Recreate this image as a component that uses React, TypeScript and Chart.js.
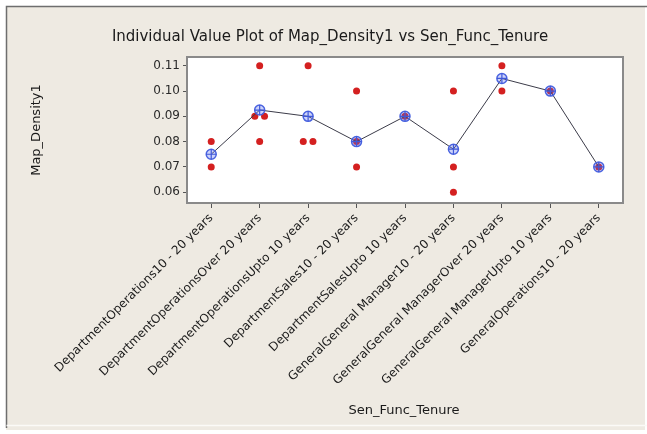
import React, { useEffect, useRef } from "react";
import { Chart, registerables } from "chart.js";

Chart.register(...registerables);

const categories = [
  "DepartmentOperations10 - 20 years",
  "DepartmentOperationsOver 20 years",
  "DepartmentOperationsUpto 10 years",
  "DepartmentSales10 - 20 years",
  "DepartmentSalesUpto 10 years",
  "GeneralGeneral Manager10 - 20 years",
  "GeneralGeneral ManagerOver 20 years",
  "GeneralGeneral ManagerUpto 10 years",
  "GeneralOperations10 - 20 years",
];

// individual observations: category index and value
const obsCategory = [0, 0, 1, 1, 1, 1, 2, 2, 2, 3, 3, 3, 4, 5, 5, 5, 6, 6, 7, 8];
const obsValue = [
  0.08, 0.07, 0.11, 0.09, 0.09, 0.08, 0.11, 0.08, 0.08, 0.1, 0.08, 0.07, 0.09,
  0.1, 0.07, 0.06, 0.11, 0.1, 0.1, 0.07,
];

// category means
const meanValues = [0.075, 0.0925, 0.09, 0.08, 0.09, 0.077, 0.105, 0.1, 0.07];

const yTicks = [0.06, 0.07, 0.08, 0.09, 0.1, 0.11];

const FONT = "'DejaVu Sans', sans-serif";

export default function App() {
  const ref = useRef<HTMLCanvasElement | null>(null);

  useEffect(() => {
    document.body.style.margin = "0";
    const canvas = ref.current;
    if (!canvas) return;

    // spread duplicate observations side by side within a category
    const seen: Record<string, number> = {};
    const counts: Record<string, number> = {};
    obsCategory.forEach((c, i) => {
      const k = c + "|" + obsValue[i];
      counts[k] = (counts[k] || 0) + 1;
    });
    const obsPoints = obsCategory.map((c, i) => {
      const k = c + "|" + obsValue[i];
      const n = counts[k];
      const j = seen[k] || 0;
      seen[k] = j + 1;
      const off = n > 1 ? (j - (n - 1) / 2) * 0.2 : 0;
      return { x: c + off, y: obsValue[i] };
    });
    const meanPoints = meanValues.map((v, i) => ({ x: i, y: v }));

    const decor = {
      id: "decor",
      beforeDraw(chart: any) {
        const ctx = chart.ctx;
        const { width, height } = chart;
        ctx.save();
        ctx.fillStyle = "#ffffff";
        ctx.fillRect(0, 0, width, height);
        ctx.fillStyle = "#eeeae2";
        ctx.fillRect(6, 6, width - 8, height - 10);
        ctx.strokeStyle = "#6e6e6e";
        ctx.lineWidth = 1.5;
        ctx.beginPath();
        ctx.moveTo(6.5, height - 6);
        ctx.lineTo(6.5, 6.5);
        ctx.lineTo(width, 6.5);
        ctx.stroke();
        ctx.strokeStyle = "#fbfaf7";
        ctx.beginPath();
        ctx.moveTo(6.5, height - 8.5);
        ctx.lineTo(width, height - 8.5);
        ctx.stroke();
        const a = chart.chartArea;
        ctx.fillStyle = "#ffffff";
        ctx.fillRect(a.left, a.top, a.right - a.left, a.bottom - a.top);
        ctx.restore();
      },
      afterDraw(chart: any) {
        const ctx = chart.ctx;
        const a = chart.chartArea;
        ctx.save();
        ctx.strokeStyle = "#8a8a8a";
        ctx.lineWidth = 2;
        ctx.strokeRect(a.left, a.top, a.right - a.left, a.bottom - a.top);
        ctx.fillStyle = "#1a1a1a";
        ctx.textAlign = "center";
        ctx.textBaseline = "middle";
        ctx.font = "15px " + FONT;
        ctx.fillText("Individual Value Plot of Map_Density1 vs Sen_Func_Tenure", 330, 37);
        ctx.font = "13px " + FONT;
        ctx.fillText("Sen_Func_Tenure", 404, 411);
        ctx.translate(37, (a.top + a.bottom) / 2);
        ctx.rotate(-Math.PI / 2);
        ctx.fillText("Map_Density1", 0, 0);
        ctx.restore();
      },
    };

    const chart = new Chart(canvas, {
      type: "scatter",
      data: {
        datasets: [
          {
            type: "line",
            data: meanPoints,
            borderColor: "#3c3c4a",
            borderWidth: 1,
            pointStyle: "circle",
            pointRadius: 5,
            pointBorderWidth: 1.5,
            pointBorderColor: "#4a63e0",
            pointBackgroundColor: "rgba(90,110,240,0.3)",
            tension: 0,
            order: 1,
          },
          {
            type: "scatter",
            data: meanPoints,
            pointStyle: "cross",
            pointRadius: 5,
            pointBorderWidth: 1.2,
            pointBorderColor: "#3f58d8",
            showLine: false,
            order: 0,
          },
          {
            type: "scatter",
            data: obsPoints,
            pointStyle: "circle",
            pointRadius: 3.5,
            pointBorderWidth: 0,
            pointBackgroundColor: "#d42020",
            order: 2,
          },
        ],
      },
      options: {
        responsive: false,
        animation: false,
        layout: { padding: { left: 0, top: 57, right: 24, bottom: 0 } },
        plugins: {
          legend: { display: false },
          tooltip: { enabled: false },
          title: { display: false },
        },
        scales: {
          x: {
            type: "linear",
            min: -0.5,
            max: categories.length - 0.5,
            afterBuildTicks: (s: any) => {
              s.ticks = categories.map((_, i) => ({ value: i }));
            },
            afterFit: (s: any) => {
              s.height = 434 - 203;
            },
            grid: {
              drawOnChartArea: false,
              drawTicks: true,
              tickLength: 5,
              color: "#555",
            },
            border: { display: false },
            ticks: {
              autoSkip: false,
              minRotation: 45,
              maxRotation: 45,
              padding: 3,
              color: "#1a1a1a",
              font: { family: FONT, size: 12 },
              callback: (v: any) => categories[Math.round(Number(v))] ?? "",
            },
          },
          y: {
            type: "linear",
            min: 0.0557,
            max: 0.1135,
            afterBuildTicks: (s: any) => {
              s.ticks = yTicks.map((v) => ({ value: v }));
            },
            afterFit: (s: any) => {
              s.width = 187;
            },
            grid: {
              drawOnChartArea: false,
              drawTicks: true,
              tickLength: 4,
              color: "#555",
            },
            border: { display: false },
            ticks: {
              padding: 3,
              color: "#2a2a2a",
              font: { family: FONT, size: 12 },
              callback: (v: any) => Number(v).toFixed(2),
            },
          },
        },
      },
      plugins: [decor],
    });

    return () => chart.destroy();
  }, []);

  return <canvas ref={ref} width={647} height={434} style={{ display: "block" }} />;
}
